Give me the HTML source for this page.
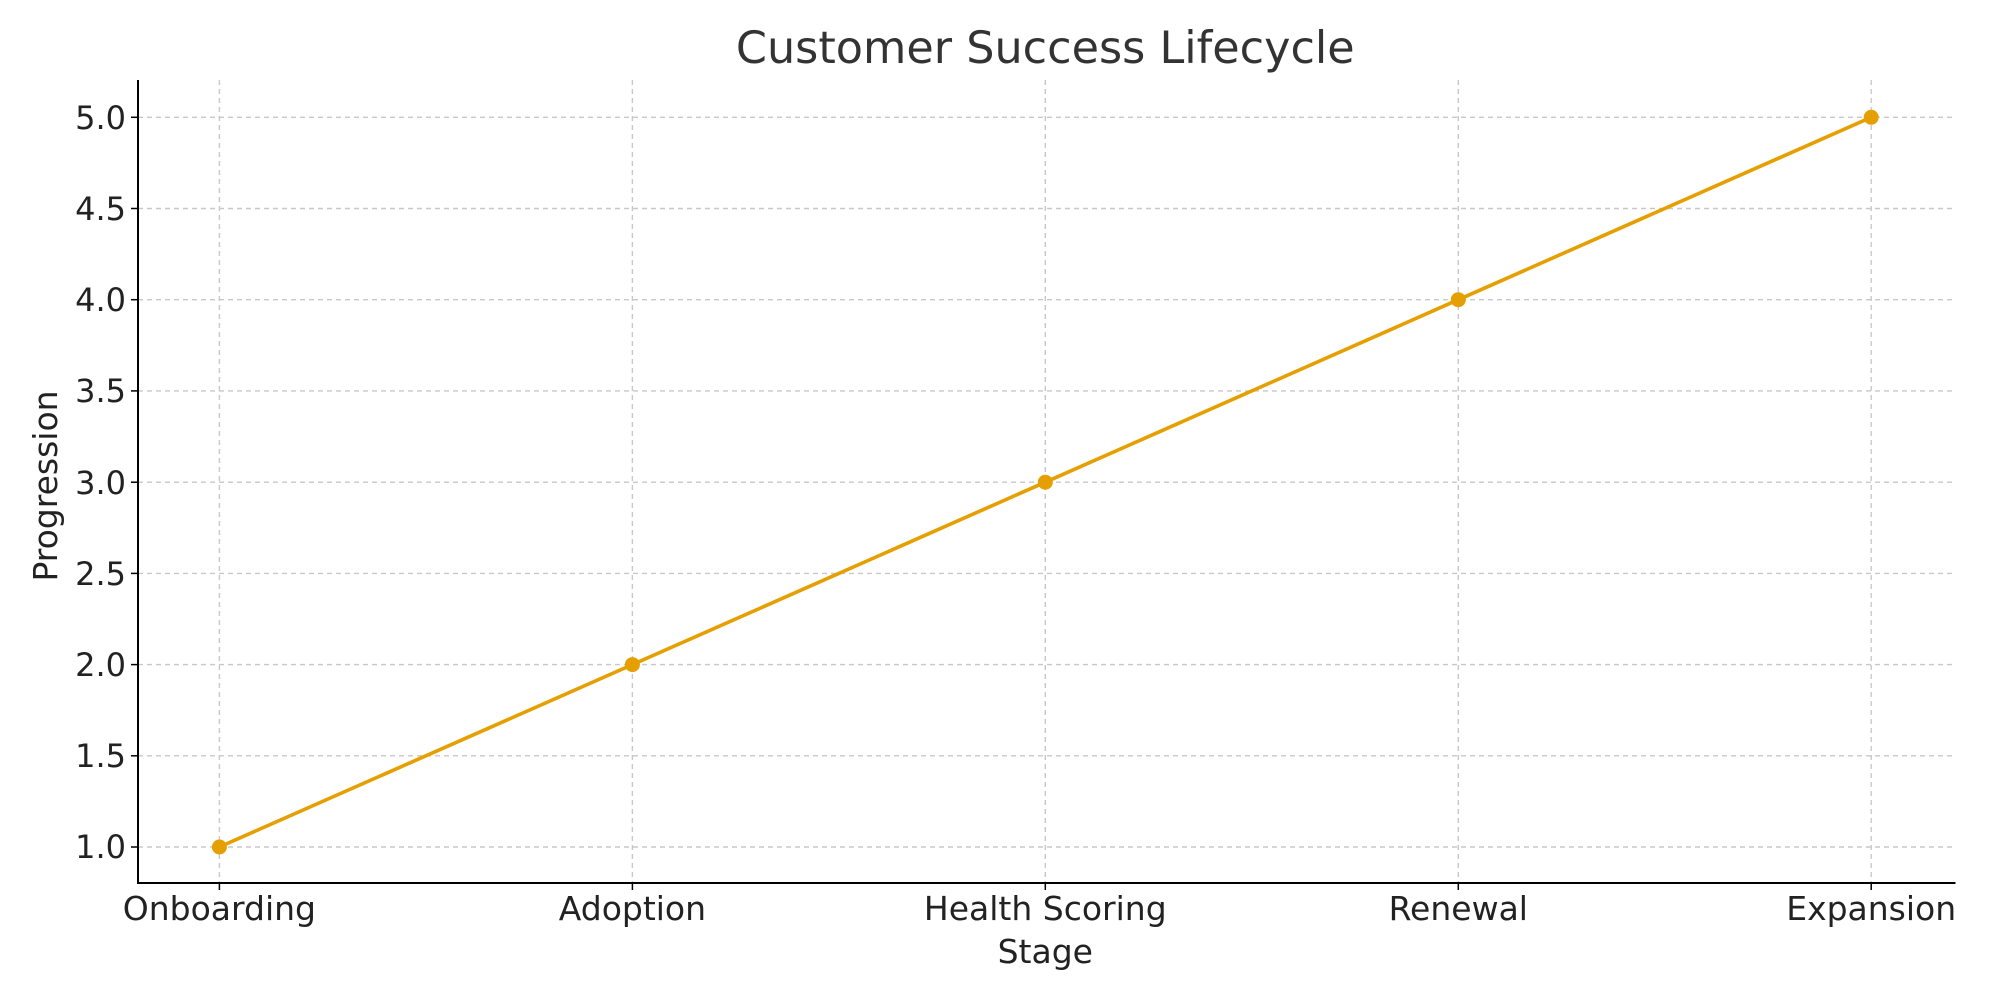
<!DOCTYPE html>
<html><head><meta charset="utf-8"><style>
html,body{margin:0;padding:0;background:#fff;}
svg text{font-family:"DejaVu Sans","Liberation Sans",sans-serif;fill:#222;}
</style></head><body>
<svg width="2000" height="1000" viewBox="0 0 2000 1000" xmlns="http://www.w3.org/2000/svg">
<rect width="2000" height="1000" fill="#fff"/>
<g stroke="#c8c8c8" stroke-width="1.4" stroke-dasharray="5,4">
<line x1="219.4" y1="80" x2="219.4" y2="883"/>
<line x1="632.4" y1="80" x2="632.4" y2="883"/>
<line x1="1045.3" y1="80" x2="1045.3" y2="883"/>
<line x1="1458.3" y1="80" x2="1458.3" y2="883"/>
<line x1="1871.2" y1="80" x2="1871.2" y2="883"/>
<line x1="138" y1="847" x2="1955" y2="847"/>
<line x1="138" y1="755.8" x2="1955" y2="755.8"/>
<line x1="138" y1="664.6" x2="1955" y2="664.6"/>
<line x1="138" y1="573.4" x2="1955" y2="573.4"/>
<line x1="138" y1="482.2" x2="1955" y2="482.2"/>
<line x1="138" y1="390.9" x2="1955" y2="390.9"/>
<line x1="138" y1="299.7" x2="1955" y2="299.7"/>
<line x1="138" y1="208.5" x2="1955" y2="208.5"/>
<line x1="138" y1="117.3" x2="1955" y2="117.3"/>
</g>
<g stroke="#000" stroke-width="2">
<line x1="138" y1="80" x2="138" y2="883"/>
<line x1="137" y1="883" x2="1955.5" y2="883"/>
</g>
<g stroke="#000" stroke-width="1.5">
<line x1="219.4" y1="883" x2="219.4" y2="890"/><line x1="632.4" y1="883" x2="632.4" y2="890"/><line x1="1045.3" y1="883" x2="1045.3" y2="890"/><line x1="1458.3" y1="883" x2="1458.3" y2="890"/><line x1="1871.2" y1="883" x2="1871.2" y2="890"/>
<line x1="131" y1="847" x2="138" y2="847"/><line x1="131" y1="755.8" x2="138" y2="755.8"/><line x1="131" y1="664.6" x2="138" y2="664.6"/><line x1="131" y1="573.4" x2="138" y2="573.4"/><line x1="131" y1="482.2" x2="138" y2="482.2"/><line x1="131" y1="390.9" x2="138" y2="390.9"/><line x1="131" y1="299.7" x2="138" y2="299.7"/><line x1="131" y1="208.5" x2="138" y2="208.5"/><line x1="131" y1="117.3" x2="138" y2="117.3"/>
</g>
<polyline points="219.4,847 632.4,664.6 1045.3,482.2 1458.3,299.7 1871.2,117.3" fill="none" stroke="#E69F00" stroke-width="3.6"/>
<g fill="#E69F00"><circle cx="219.4" cy="847" r="7.5"/><circle cx="632.4" cy="664.6" r="7.5"/><circle cx="1045.3" cy="482.2" r="7.5"/><circle cx="1458.3" cy="299.7" r="7.5"/><circle cx="1871.2" cy="117.3" r="7.5"/></g>
<g font-size="32" text-anchor="end">
<text x="126" y="858">1.0</text><text x="126" y="767">1.5</text><text x="126" y="676">2.0</text><text x="126" y="585">2.5</text><text x="126" y="494">3.0</text><text x="126" y="402">3.5</text><text x="126" y="311">4.0</text><text x="126" y="220">4.5</text><text x="126" y="129">5.0</text>
</g>
<g font-size="33" text-anchor="middle">
<text x="219.4" y="920">Onboarding</text><text x="632.4" y="920">Adoption</text><text x="1045.3" y="920">Health Scoring</text><text x="1458.3" y="920">Renewal</text><text x="1871.2" y="920">Expansion</text>
<text x="1045.3" y="963">Stage</text>
<text transform="translate(57,486) rotate(-90)">Progression</text>
<text x="1045.3" y="63" font-size="44.5" style="fill:#333">Customer Success Lifecycle</text>
</g>
</svg>
</body></html>
